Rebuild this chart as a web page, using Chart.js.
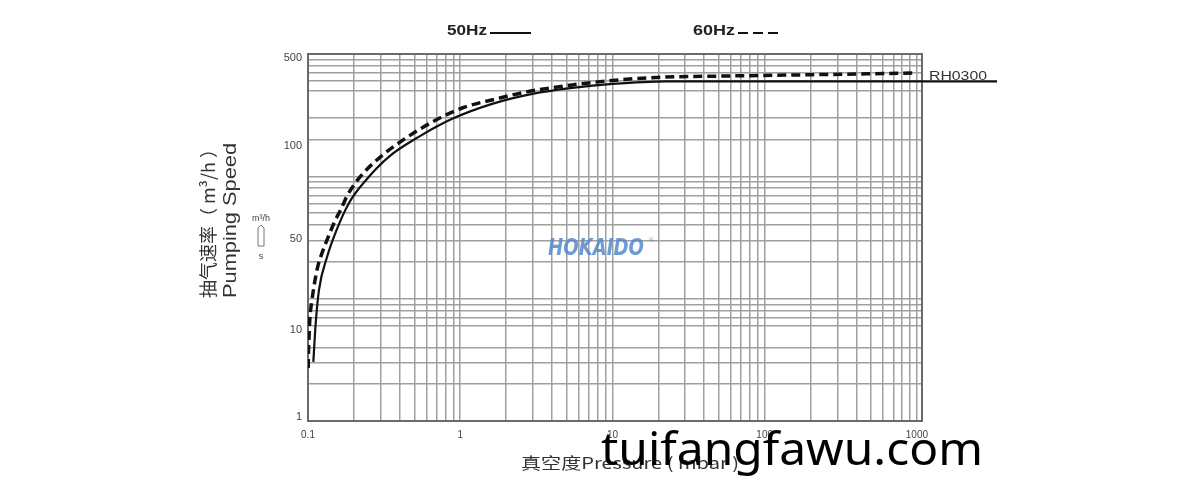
<!DOCTYPE html>
<html>
<head>
<meta charset="utf-8">
<script src="https://cdn.jsdelivr.net/npm/chart.js@4/dist/chart.umd.min.js"></script>
<style>
  body { margin: 0; background: #fff; }
  canvas { display: block; }
</style>
</head>
<body>
<canvas id="speedChart" width="1200" height="497"></canvas>
<script>
// pressure (mbar) vs pumping speed
const pressure50 = [0.1084, 0.1124, 0.1181, 0.1334, 0.1528, 0.186, 0.2408, 0.341, 0.537, 0.886, 1.62, 2.98, 5.45, 10, 22.7, 3360];
const speed50    = [3.04, 6.33, 11.8, 21.9, 35.5, 60.6, 93.4, 145, 211, 295, 391, 472, 528, 569, 597, 597];
const pressure60 = [0.1003, 0.1008, 0.1017, 0.1029, 0.1058, 0.1146, 0.1236, 0.1334, 0.1483, 0.1649, 0.1806, 0.217, 0.293, 0.441, 0.655, 1.03, 1.73, 2.72, 5.45, 10, 19.5, 61.5, 170, 469, 1000];
const speed60    = [2.71, 3.81, 5.05, 6.95, 9.45, 17.2, 23.6, 30.2, 41.6, 54.1, 69.2, 97, 141, 206, 278, 362, 430, 490, 559, 608, 644, 662, 675, 688, 700];

// x tick labels (log decades)
const xLabelValues = [0.1, 1, 10, 100, 1000];
// y labels sit where the original sheet printed them
const yLabelValues = [1.08, 5.5, 30.8, 176, 930];
const yLabelTexts  = ['1', '10', '50', '100', '500'];
// grid lines missing on the original sheet
const yGridSkip = [5, 400];

function decadeLines(from, to, skip) {
  const out = [];
  for (let d = from; d < to; d *= 10) {
    for (let m = 1; m < 10; m++) {
      const v = +(m * d).toPrecision(3);
      if (!skip.includes(v)) out.push(v);
    }
  }
  out.push(to);
  return out;
}
const xGrid = decadeLines(0.1, 1000, []);
const yGrid = decadeLines(1, 1000, yGridSkip);

// draw text squeezed/stretched to a given width (left aligned)
function fitText(ctx, text, x, y, width) {
  const w = ctx.measureText(text).width;
  ctx.save();
  ctx.textAlign = 'left';
  ctx.translate(x, y);
  ctx.scale(width / w, 1);
  ctx.fillText(text, 0, 0);
  ctx.restore();
}

const frame = {
  id: 'frame',
  beforeDatasetsDraw(chart) {
    const { ctx, chartArea: a } = chart;
    ctx.save();
    // logo watermark
    ctx.font = 'italic 900 23px "DejaVu Sans"';
    ctx.fillStyle = 'rgba(85,138,205,0.85)';
    ctx.textBaseline = 'middle';
    fitText(ctx, 'HOKAIDO', 548, 249, 96);
    ctx.font = '6px "Liberation Sans"';
    ctx.fillText('®', 649, 240);
    // plot border
    ctx.strokeStyle = '#6a6a6a';
    ctx.lineWidth = 2;
    ctx.strokeRect(a.left, a.top, a.right - a.left, a.bottom - a.top);
    ctx.restore();
  },
  afterDraw(chart) {
    const { ctx } = chart;
    ctx.save();
    ctx.fillStyle = '#222';
    ctx.textBaseline = 'middle';
    // legend
    ctx.font = 'bold 15px "Liberation Sans"';
    fitText(ctx, '50Hz', 447, 31, 40);
    fitText(ctx, '60Hz', 693, 31, 42);
    ctx.strokeStyle = '#111';
    ctx.lineWidth = 2;
    ctx.beginPath(); ctx.moveTo(490, 33); ctx.lineTo(531, 33); ctx.stroke();
    ctx.setLineDash([10, 5]);
    ctx.beginPath(); ctx.moveTo(738, 33); ctx.lineTo(779, 33); ctx.stroke();
    ctx.setLineDash([]);
    // curve name
    ctx.font = '13px "Liberation Sans"';
    ctx.fillStyle = '#333';
    fitText(ctx, 'RH0300', 929, 76, 58);
    // y titles
    ctx.save();
    ctx.translate(208, 298);
    ctx.rotate(-Math.PI / 2);
    ctx.font = '18px "Noto Sans CJK SC"';
    ctx.fillStyle = '#333';
    fitText(ctx, '抽气速率（ m³/h ）', 0, 0, 158);
    ctx.restore();
    ctx.save();
    ctx.translate(231, 298);
    ctx.rotate(-Math.PI / 2);
    ctx.font = '18px "Liberation Sans"';
    ctx.fillStyle = '#333';
    fitText(ctx, 'Pumping Speed', 0, 0, 155);
    ctx.restore();
    // unit note
    ctx.font = '9px "Liberation Sans"';
    ctx.fillStyle = '#444';
    ctx.textAlign = 'center';
    ctx.fillText('m³/h', 261, 219);
    ctx.fillText('s', 261, 257);
    ctx.strokeStyle = '#777';
    ctx.lineWidth = 1;
    ctx.beginPath();
    ctx.moveTo(258, 228); ctx.lineTo(261, 225); ctx.lineTo(264, 228);
    ctx.lineTo(264, 246); ctx.lineTo(258, 246); ctx.closePath();
    ctx.stroke();
    // x title
    ctx.font = '16px "Noto Sans CJK SC"';
    ctx.fillStyle = '#333';
    fitText(ctx, '真空度Pressure ( mbar )', 521, 463, 218);
    // site watermark
    ctx.font = '45px "Noto Sans"';
    ctx.fillStyle = '#000';
    ctx.textBaseline = 'alphabetic';
    fitText(ctx, 'tuifangfawu.com', 601, 465, 382);
    ctx.restore();
  }
};

new Chart(document.getElementById('speedChart').getContext('2d'), {
  type: 'scatter',
  data: {
    datasets: [
      {
        label: '50Hz',
        data: pressure50.map((p, i) => ({ x: p, y: speed50[i] })),
        showLine: true,
        borderColor: '#111',
        borderWidth: 2.2,
        pointRadius: 0,
        cubicInterpolationMode: 'monotone',
        clip: false
      },
      {
        label: '60Hz',
        data: pressure60.map((p, i) => ({ x: p, y: speed60[i] })),
        showLine: true,
        borderColor: '#111',
        borderWidth: 3.5,
        borderDash: [9, 5],
        pointRadius: 0,
        cubicInterpolationMode: 'monotone'
      }
    ]
  },
  options: {
    responsive: false,
    animation: false,
    layout: { padding: { top: 54, right: 278, left: 0, bottom: 0 } },
    plugins: { legend: { display: false }, tooltip: { enabled: false } },
    scales: {
      x: {
        type: 'logarithmic',
        min: 0.1,
        max: 1080,
        afterBuildTicks(scale) {
          scale.ticks = xGrid.map(v => ({ value: v }));
        },
        afterFit(scale) { scale.height = 76; },
        grid: { color: '#a0a0a0', lineWidth: 1.5, drawTicks: false },
        border: { display: false },
        ticks: {
          autoSkip: false,
          maxRotation: 0,
          padding: 8,
          color: '#444',
          font: { family: 'Liberation Sans', size: 10 },
          callback: v => xLabelValues.includes(v) ? String(v) : ''
        }
      },
      y: {
        type: 'logarithmic',
        min: 1,
        max: 1000,
        afterBuildTicks(scale) {
          const all = yGrid.concat(yLabelValues).sort((a, b) => a - b);
          scale.ticks = all.map(v => ({ value: v }));
        },
        afterFit(scale) { scale.width = 308; },
        grid: {
          drawTicks: false,
          lineWidth: 1.5,
          color: c => (c.tick && yLabelValues.includes(c.tick.value)) ? 'rgba(0,0,0,0)' : '#a0a0a0'
        },
        border: { display: false },
        ticks: {
          autoSkip: false,
          padding: 6,
          color: '#444',
          font: { family: 'Liberation Sans', size: 11 },
          callback: v => {
            const i = yLabelValues.indexOf(v);
            return i >= 0 ? yLabelTexts[i] : '';
          }
        }
      }
    }
  },
  plugins: [frame]
});
</script>
</body>
</html>
